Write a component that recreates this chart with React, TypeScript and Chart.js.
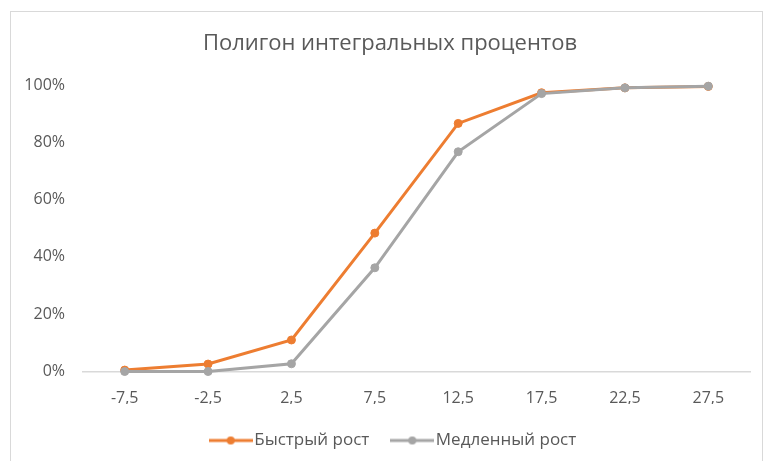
import React, { useEffect, useRef } from "react";
import { Chart, registerables } from "chart.js";

Chart.register(...registerables);

// Interval midpoints and cumulative shares for each growth group
const categories = ["-7,5", "-2,5", "2,5", "7,5", "12,5", "17,5", "22,5", "27,5"];
const fastGrowth = [0.005, 0.026, 0.11, 0.483, 0.866, 0.973, 0.99, 0.995];
const slowGrowth = [0, 0, 0.027, 0.362, 0.767, 0.97, 0.99, 0.996];
const seriesNames = ["Быстрый рост", "Медленный рост"];
const seriesColors = ["#ED7D31", "#A5A5A5"];
const chartTitle = "Полигон интегральных процентов";

const FONT = "'Open Sans', 'Noto Sans', sans-serif";
const TEXT = "#595959";

// Legend marker: a short line with a dot in the middle
function makeMarker(color: string): HTMLCanvasElement {
  const c = document.createElement("canvas");
  c.width = 44;
  c.height = 10;
  const ctx = c.getContext("2d")!;
  ctx.strokeStyle = color;
  ctx.lineWidth = 3;
  ctx.beginPath();
  ctx.moveTo(0, 5);
  ctx.lineTo(44, 5);
  ctx.stroke();
  ctx.fillStyle = color;
  ctx.beginPath();
  ctx.arc(22, 5, 4, 0, Math.PI * 2);
  ctx.fill();
  return c;
}

// Centre the title and legend over the framed chart rather than over the canvas
const shiftHeaderFooter = {
  id: "shiftHeaderFooter",
  afterLayout(chart: any) {
    const shifts: [any, number][] = [
      [chart.titleBlock, 10],
      [chart.legend, 16],
    ];
    for (const [box, dx] of shifts) {
      if (box) {
        box.left += dx;
        box.right += dx;
      }
    }
  },
};

export default function App() {
  const canvasRef = useRef<HTMLCanvasElement | null>(null);

  useEffect(() => {
    if (!canvasRef.current) return;
    const markers = seriesColors.map(makeMarker);
    const series = [fastGrowth, slowGrowth];

    const chart = new Chart(canvasRef.current, {
      type: "line",
      data: {
        labels: categories,
        datasets: series.map((values, i) => ({
          label: seriesNames[i],
          data: values,
          borderColor: seriesColors[i],
          backgroundColor: seriesColors[i],
          pointBackgroundColor: seriesColors[i],
          pointBorderColor: seriesColors[i],
          borderWidth: 3,
          pointRadius: 4,
          pointBorderWidth: 1,
          tension: 0,
          fill: false,
          clip: false as any,
          order: i === 0 ? 1 : 0,
        })),
      },
      plugins: [shiftHeaderFooter],
      options: {
        animation: false,
        responsive: false,
        layout: { padding: { left: 10, right: 15, top: 0, bottom: 11 } },
        plugins: {
          title: {
            display: true,
            text: chartTitle,
            color: TEXT,
            font: { family: FONT, size: 22, weight: "normal" as any },
            padding: { top: 31, bottom: 27.6 },
          },
          legend: {
            position: "bottom",
            labels: {
              color: TEXT,
              font: { family: FONT, size: 17 },
              usePointStyle: true,
              pointStyleWidth: 30,
              padding: 28,
              generateLabels: (c: Chart) => {
                const items = (Chart.defaults.plugins.legend.labels as any).generateLabels(c);
                return items
                  .sort((a: any, b: any) => a.datasetIndex - b.datasetIndex)
                  .map((it: any) => ({ ...it, pointStyle: markers[it.datasetIndex], lineWidth: 0 }));
              },
            },
          },
          tooltip: { enabled: false },
        },
        scales: {
          x: {
            offset: true,
            grid: { display: false, drawTicks: false },
            border: { display: true, color: "#D9D9D9", width: 1.5 },
            ticks: { color: TEXT, font: { family: FONT, size: 16 }, padding: 17, maxRotation: 0 },
            afterFit: (s: any) => {
              s.height = 32.5;
            },
          },
          y: {
            min: 0,
            max: 1,
            grid: { display: false, drawTicks: false },
            border: { display: false },
            ticks: {
              stepSize: 0.2,
              color: TEXT,
              font: { family: FONT, size: 16 },
              padding: 18,
              callback: (v: any) => Math.round(Number(v) * 100) + "%",
            },
            afterFit: (s: any) => {
              s.width = 73;
            },
          },
        },
      },
    });
    return () => chart.destroy();
  }, []);

  return (
    <div
      style={{
        position: "fixed",
        left: 0,
        top: 0,
        width: 765,
        height: 461,
        overflow: "hidden",
        background: "#ffffff",
      }}
    >
      <div
        style={{
          position: "absolute",
          left: 10,
          top: 11,
          width: 753,
          height: 470,
          boxSizing: "border-box",
          border: "1px solid #D9D9D9",
        }}
      />
      <canvas
        ref={canvasRef}
        width={765}
        height={470}
        style={{ position: "absolute", left: 0, top: 0, width: 765, height: 470 }}
      />
    </div>
  );
}
